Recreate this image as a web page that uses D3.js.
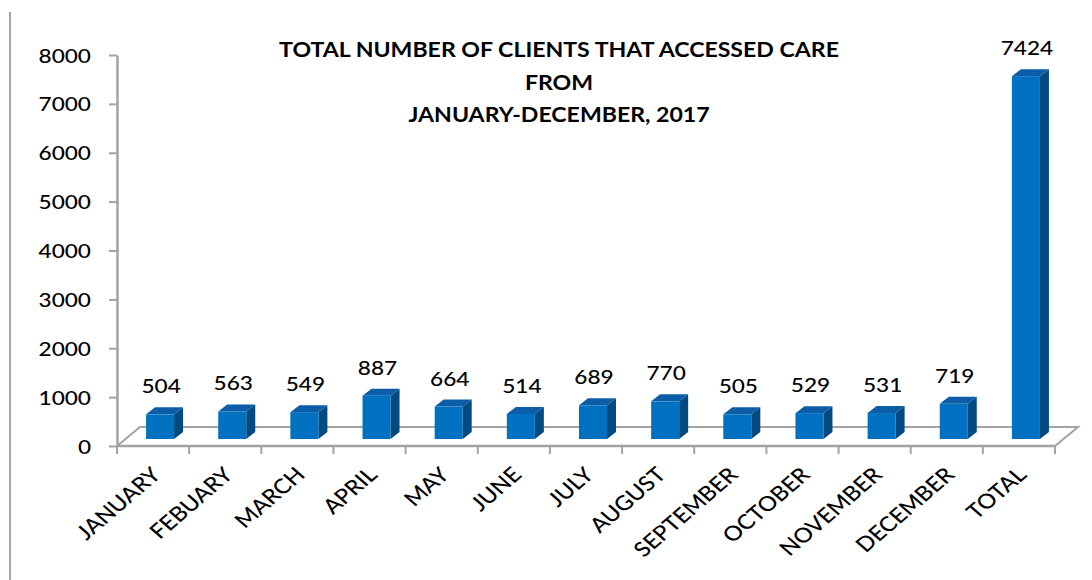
<!DOCTYPE html>
<html>
<head>
<meta charset="utf-8">
<script src="https://cdn.jsdelivr.net/npm/d3@7/dist/d3.min.js"></script>
<style>
  body { margin: 0; background: #fff; }
  svg { display: block; }
  text { font-family: Lato, "Open Sans", sans-serif; fill: #000; }
</style>
</head>
<body>
<div id="chart"></div>
<script>
const months = ["JANUARY", "FEBUARY", "MARCH", "APRIL", "MAY", "JUNE", "JULY",
  "AUGUST", "SEPTEMBER", "OCTOBER", "NOVEMBER", "DECEMBER", "TOTAL"];
const clients = [504, 563, 549, 887, 664, 514, 689, 770, 505, 529, 531, 719, 7424];
const yTicks = [0, 1000, 2000, 3000, 4000, 5000, 6000, 7000, 8000];
const titleLines = ["TOTAL NUMBER OF CLIENTS THAT ACCESSED CARE", "FROM", "JANUARY-DECEMBER, 2017"];

const width = 1092, height = 580;
const plot = {left: 117, right: 1055, top: 55, bottom: 446};
const floorDepth = {dx: 23, dy: -19};   // 3d floor offset
const barShift = {dx: 7, dy: -7};       // bars stand a bit back on the floor
const barDepth = {dx: 9, dy: -7};
const barWidth = 28;
const stretch = 1.16;                   // the original picture is stretched sideways
const axisColor = "#a3a3a3";

const svg = d3.select("#chart").append("svg")
  .attr("width", width)
  .attr("height", height);

// frame line on the left
svg.append("line")
  .attr("x1", 10).attr("x2", 10)
  .attr("y1", 12).attr("y2", height)
  .attr("stroke", "#a6a6a6").attr("stroke-width", 2);

const xScale = d3.scaleBand()
  .domain(months)
  .range([plot.left, plot.right]);

const yScale = d3.scaleLinear()
  .domain([0, 8000])
  .range([plot.bottom, plot.top]);

// floor
const fl = svg.append("g").attr("class", "floor")
  .attr("stroke", axisColor).attr("stroke-width", 2).attr("fill", "none");
fl.append("path")
  .attr("d", "M" + plot.left + "," + plot.bottom +
    "L" + (plot.left + floorDepth.dx) + "," + (plot.bottom + floorDepth.dy) +
    "L" + (plot.right + floorDepth.dx) + "," + (plot.bottom + floorDepth.dy) +
    "L" + plot.right + "," + plot.bottom);

// y axis
const yAxis = d3.axisLeft(yScale)
  .tickValues(yTicks)
  .tickSize(8)
  .tickSizeOuter(0)
  .tickFormat(d3.format("d"));

const yg = svg.append("g")
  .attr("class", "y axis")
  .attr("transform", "translate(" + plot.left + ",0)")
  .call(yAxis);
yg.select(".domain").attr("stroke", axisColor).attr("stroke-width", 2.5);
yg.selectAll(".tick line").attr("stroke", axisColor).attr("stroke-width", 2);
yg.selectAll(".tick text")
  .attr("font-size", 19.5)
  .attr("font-weight", 500)
  .attr("dy", "0.36em")
  .attr("x", null)
  .attr("transform", "translate(-26,0) scale(" + stretch + ",1)");

// x axis: front edge of floor and ticks between categories
const xg = svg.append("g").attr("class", "x axis");
xg.append("line")
  .attr("x1", plot.left).attr("x2", plot.right)
  .attr("y1", plot.bottom).attr("y2", plot.bottom)
  .attr("stroke", axisColor).attr("stroke-width", 2.5);
const edges = months.map(m => xScale(m)).concat([plot.right]);
xg.selectAll("line.xtick")
  .data(edges)
  .enter().append("line")
  .attr("class", "xtick")
  .attr("x1", d => d).attr("x2", d => d)
  .attr("y1", plot.bottom).attr("y2", plot.bottom + 8)
  .attr("stroke", axisColor).attr("stroke-width", 2);

xg.selectAll("text.cat")
  .data(months)
  .enter().append("text")
  .attr("class", "cat")
  .attr("font-size", 20.5)
  .attr("font-weight", 500)
  .attr("text-anchor", "end")
  .attr("transform", d => "translate(" + (xScale(d) + xScale.bandwidth() / 2 + 9) + "," + (plot.bottom + 30) + ") scale(" + stretch + ",1) rotate(-45)")
  .text(d => d);

// bars
const barData = months.map((m, i) => ({month: m, value: clients[i]}));
const bars = svg.selectAll("g.bar")
  .data(barData)
  .enter().append("g")
  .attr("class", "bar");

const fx = d => xScale(d.month) + xScale.bandwidth() / 2 - barWidth / 2 + barShift.dx;
const by = plot.bottom + barShift.dy;
const ty = d => by - (yScale(0) - yScale(d.value));

// side face
bars.append("path")
  .attr("fill", "#024a80")
  .attr("d", d => {
    const x = fx(d) + barWidth;
    return "M" + x + "," + by + "L" + x + "," + ty(d) +
      "L" + (x + barDepth.dx) + "," + (ty(d) + barDepth.dy) +
      "L" + (x + barDepth.dx) + "," + (by + barDepth.dy) + "Z";
  });
// top face
bars.append("path")
  .attr("fill", "#0a5da6")
  .attr("d", d => {
    const x = fx(d);
    return "M" + x + "," + ty(d) + "L" + (x + barDepth.dx) + "," + (ty(d) + barDepth.dy) +
      "L" + (x + barWidth + barDepth.dx) + "," + (ty(d) + barDepth.dy) +
      "L" + (x + barWidth) + "," + ty(d) + "Z";
  });
// front face
bars.append("rect")
  .attr("fill", "#0070c0")
  .attr("x", fx)
  .attr("y", ty)
  .attr("width", barWidth)
  .attr("height", d => by - ty(d));

// value labels
bars.append("text")
  .attr("font-size", 19.5)
  .attr("font-weight", 500)
  .attr("text-anchor", "middle")
  .attr("transform", d => "translate(" + (fx(d) + barWidth / 2 + 1) + "," + (ty(d) + barDepth.dy - 14) + ") scale(" + stretch + ",1)")
  .text(d => d.value);

// title
const title = svg.append("g").attr("class", "title");
title.selectAll("text")
  .data(titleLines)
  .enter().append("text")
  .attr("font-size", 21)
  .attr("font-weight", "bold")
  .attr("text-anchor", "middle")
  .attr("transform", (d, i) => "translate(559," + (57 + i * 32.5) + ") scale(1.1,1)")
  .text(d => d);
</script>
</body>
</html>
